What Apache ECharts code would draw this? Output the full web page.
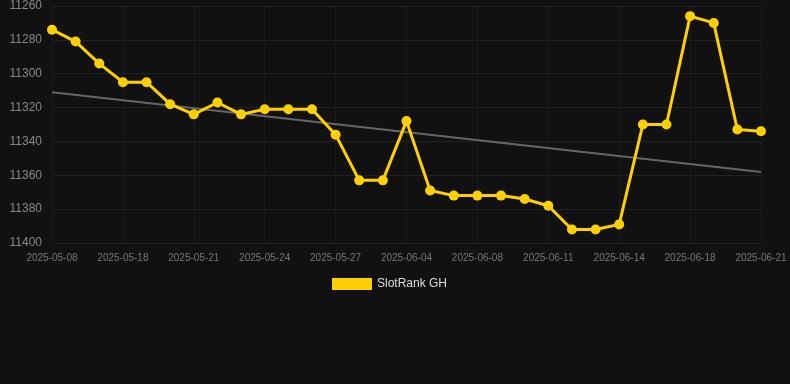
<!DOCTYPE html>
<html>
<head>
<meta charset="utf-8">
<script src="https://cdn.jsdelivr.net/npm/echarts@6/dist/echarts.min.js"></script>
<style>
html,body{margin:0;padding:0;background:#111111;}
#chart{width:790px;height:384px;}
</style>
</head>
<body>
<div id="chart"></div>
<script>
const categories = ["2025-05-08","2025-05-16","2025-05-17","2025-05-18","2025-05-19","2025-05-20","2025-05-21","2025-05-22","2025-05-23","2025-05-24","2025-05-25","2025-05-26","2025-05-27","2025-05-28","2025-05-29","2025-06-04","2025-06-05","2025-06-07","2025-06-08","2025-06-09","2025-06-10","2025-06-11","2025-06-12","2025-06-13","2025-06-14","2025-06-15","2025-06-17","2025-06-18","2025-06-19","2025-06-20","2025-06-21"];
const rankValues = [11274,11281,11294,11305,11305,11318,11324,11317,11324,11321,11321,11321,11336,11363,11363,11328,11369,11372,11372,11372,11374,11378,11392,11392,11389,11330,11330,11266,11270,11333,11334];
const trendEnds = [11311,11358];
const seriesName = "SlotRank GH";

const trendData = categories.map(function(c,i){
  if(i===0) return trendEnds[0];
  if(i===categories.length-1) return trendEnds[1];
  return null;
});

const chart = echarts.init(document.getElementById('chart'));
chart.setOption({
  backgroundColor:'#111111',
  animation:false,
  grid:{left:52,right:29,top:6,bottom:141},
  legend:{
    bottom:89,
    left:327,
    data:[seriesName],
    itemWidth:40,itemHeight:12,
    icon:'rect',
    textStyle:{color:'#dddddd',fontSize:12,fontFamily:'Liberation Sans, Arial, sans-serif'}
  },
  xAxis:{
    type:'category',
    data:categories,
    boundaryGap:false,
    axisLine:{show:false},
    axisTick:{show:false},
    axisLabel:{interval:2,color:'#777777',fontSize:10,margin:10,fontFamily:'Liberation Sans, Arial, sans-serif'},
    splitLine:{show:true,interval:2,lineStyle:{color:'#1c1c1c',width:1}}
  },
  yAxis:{
    type:'value',
    inverse:true,
    min:11260,max:11400,interval:20,
    axisLine:{show:false},
    axisTick:{show:false},
    axisLabel:{color:'#888888',fontSize:12,margin:10,fontFamily:'Liberation Sans, Arial, sans-serif',formatter:function(v){return String(v);}},
    splitLine:{show:true,lineStyle:{color:'#222222',width:1}}
  },
  series:[
    {
      name:'trend',
      type:'line',
      data:trendData,
      connectNulls:true,
      symbol:'none',
      lineStyle:{color:'#666666',width:2},
      silent:true,
      z:1
    },
    {
      name:seriesName,
      type:'line',
      data:rankValues,
      symbol:'circle',
      symbolSize:10,
      itemStyle:{color:'#ffd000'},
      lineStyle:{color:'#ffd000',width:3},
      z:2
    }
  ]
});
</script>
</body>
</html>
